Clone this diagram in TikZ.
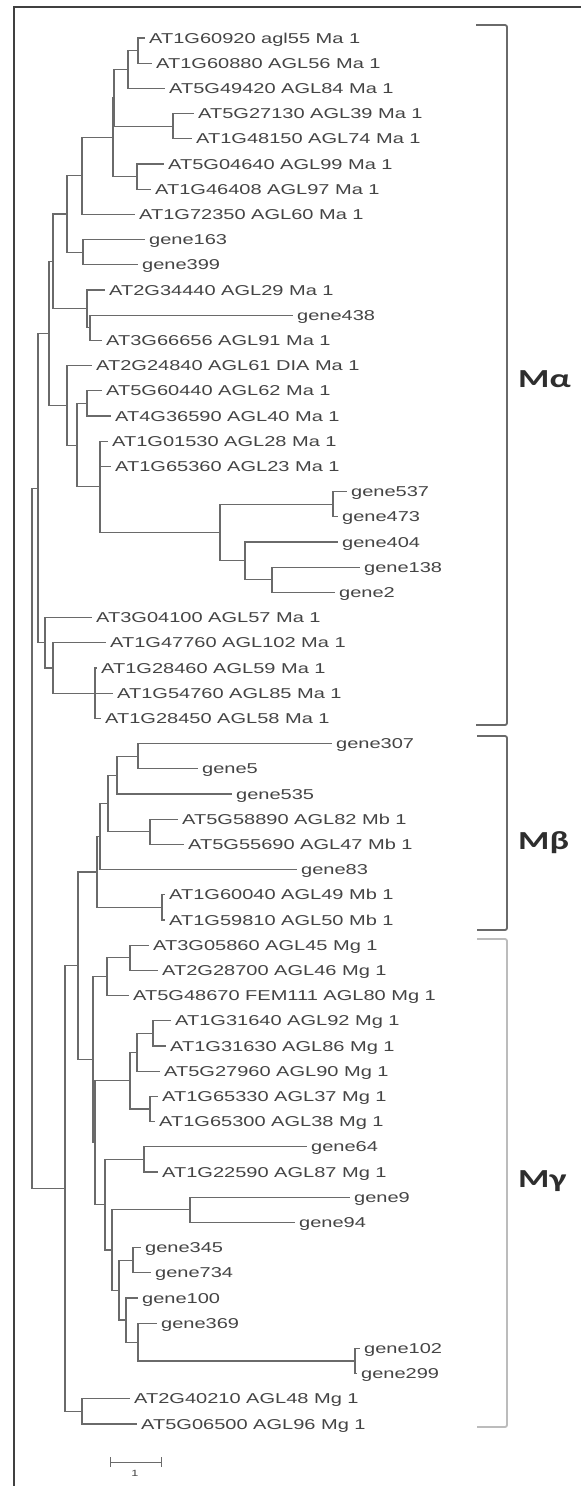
\documentclass[tikz,border=0pt]{standalone}
\usepackage{fontspec}
\newfontfamily\leaffont[FakeStretch=1.40]{Liberation Sans}
\newfontfamily\grpfont[FakeStretch=1.38]{Carlito}
\definecolor{treec}{HTML}{6A6A6A}
\definecolor{txtc}{HTML}{444444}
\definecolor{brkc}{HTML}{6A6A6A}
\definecolor{brkl}{HTML}{BCBCBC}
\definecolor{grpc}{HTML}{2E2E2E}
\definecolor{framec}{HTML}{404040}
\begin{document}
\begin{tikzpicture}[x=1pt,y=-1pt,
  br/.style={draw=treec,line width=1.15pt},
  lf/.style={anchor=west,inner xsep=4pt,inner ysep=0pt,text height=10pt,text depth=0pt,text=txtc,font=\leaffont\fontsize{14.3}{16}\selectfont},
  grp/.style={anchor=base west,inner sep=0pt,text=grpc,font=\grpfont\bfseries\fontsize{26}{28}\selectfont},
  brk/.style={line width=1.8pt,rounded corners=2pt},
  frame/.style={draw=framec,line width=1.8pt},
  scalebar/.style={draw=treec,line width=1pt}]
\useasboundingbox (0,0) rectangle (581,1486);
\fill[white] (0,0) rectangle (581,1486);
% frame
\coordinate (fBL) at (14,1486);
\coordinate (fTL) at (14,7);
\coordinate (fTR) at (581,7);
\draw[frame] (fBL) -- (fTL) -- (fTR);
% leaves
\node[lf] (L1) at (145,38) {AT1G60920 agl55 Ma 1};
\node[lf] (L2) at (152,63.2) {AT1G60880 AGL56 Ma 1};
\node[lf] (L3) at (165,88.4) {AT5G49420 AGL84 Ma 1};
\node[lf] (L4) at (194,113.6) {AT5G27130 AGL39 Ma 1};
\node[lf] (L5) at (192,138.8) {AT1G48150 AGL74 Ma 1};
\node[lf] (L6) at (164,164) {AT5G04640 AGL99 Ma 1};
\node[lf] (L7) at (151,189.2) {AT1G46408 AGL97 Ma 1};
\node[lf] (L8) at (135,214.4) {AT1G72350 AGL60 Ma 1};
\node[lf] (L9) at (145,239.6) {gene163};
\node[lf] (L10) at (138,264.8) {gene399};
\node[lf] (L11) at (105,290) {AT2G34440 AGL29 Ma 1};
\node[lf] (L12) at (293,315.2) {gene438};
\node[lf] (L13) at (102,340.4) {AT3G66656 AGL91 Ma 1};
\node[lf] (L14) at (92,365.6) {AT2G24840 AGL61 DIA Ma 1};
\node[lf] (L15) at (102,390.8) {AT5G60440 AGL62 Ma 1};
\node[lf] (L16) at (111,416) {AT4G36590 AGL40 Ma 1};
\node[lf] (L17) at (108,441.2) {AT1G01530 AGL28 Ma 1};
\node[lf] (L18) at (111,466.4) {AT1G65360 AGL23 Ma 1};
\node[lf] (L19) at (347,491.6) {gene537};
\node[lf] (L20) at (338,516.8) {gene473};
\node[lf] (L21) at (338,542) {gene404};
\node[lf] (L22) at (360,567.2) {gene138};
\node[lf] (L23) at (335,592.4) {gene2};
\node[lf] (L24) at (92,617.6) {AT3G04100 AGL57 Ma 1};
\node[lf] (L25) at (106,642.8) {AT1G47760 AGL102 Ma 1};
\node[lf] (L26) at (97,668) {AT1G28460 AGL59 Ma 1};
\node[lf] (L27) at (113,693.2) {AT1G54760 AGL85 Ma 1};
\node[lf] (L28) at (101,718.4) {AT1G28450 AGL58 Ma 1};
\node[lf] (L29) at (332,743.6) {gene307};
\node[lf] (L30) at (198,768.8) {gene5};
\node[lf] (L31) at (232,794) {gene535};
\node[lf] (L32) at (178,819.2) {AT5G58890 AGL82 Mb 1};
\node[lf] (L33) at (184,844.4) {AT5G55690 AGL47 Mb 1};
\node[lf] (L34) at (297,869.6) {gene83};
\node[lf] (L35) at (165,894.8) {AT1G60040 AGL49 Mb 1};
\node[lf] (L36) at (165,920) {AT1G59810 AGL50 Mb 1};
\node[lf] (L37) at (149,945.2) {AT3G05860 AGL45 Mg 1};
\node[lf] (L38) at (158,970.4) {AT2G28700 AGL46 Mg 1};
\node[lf] (L39) at (129,995.6) {AT5G48670 FEM111 AGL80 Mg 1};
\node[lf] (L40) at (171,1020.8) {AT1G31640 AGL92 Mg 1};
\node[lf] (L41) at (166,1046) {AT1G31630 AGL86 Mg 1};
\node[lf] (L42) at (160,1071.2) {AT5G27960 AGL90 Mg 1};
\node[lf] (L43) at (158,1096.4) {AT1G65330 AGL37 Mg 1};
\node[lf] (L44) at (155,1121.6) {AT1G65300 AGL38 Mg 1};
\node[lf] (L45) at (307,1146.8) {gene64};
\node[lf] (L46) at (158,1172) {AT1G22590 AGL87 Mg 1};
\node[lf] (L47) at (350,1197.2) {gene9};
\node[lf] (L48) at (295,1222.4) {gene94};
\node[lf] (L49) at (141,1247.6) {gene345};
\node[lf] (L50) at (151,1272.8) {gene734};
\node[lf] (L51) at (138,1298) {gene100};
\node[lf] (L52) at (157,1323.2) {gene369};
\node[lf] (L53) at (360,1348.4) {gene102};
\node[lf] (L54) at (357,1373.6) {gene299};
\node[lf] (L55) at (130,1398.8) {AT2G40210 AGL48 Mg 1};
\node[lf] (L56) at (137,1424) {AT5G06500 AGL96 Mg 1};
% internal nodes
\coordinate (n12) at (138,50.6);
\coordinate (n123) at (128,69.5);
\coordinate (n45) at (173,126.2);
\coordinate (n15) at (114,97.9);
\coordinate (n67) at (137,176.6);
\coordinate (nC) at (113,137.2);
\coordinate (nD) at (82,175.8);
\coordinate (n910) at (83,252.2);
\coordinate (nE) at (67,214);
\coordinate (n1213) at (90,327.8);
\coordinate (nG) at (87,308.9);
\coordinate (nF) at (53,261.5);
\coordinate (n1516) at (87,403.4);
\coordinate (n1920) at (333,504.2);
\coordinate (n2223) at (272,579.8);
\coordinate (nM) at (245,560.9);
\coordinate (nL) at (220,532.6);
\coordinate (nK) at (100,486.9);
\coordinate (nJ) at (77,445.2);
\coordinate (nI) at (67,405.4);
\coordinate (nH) at (49,333.5);
\coordinate (nS) at (95,693.2);
\coordinate (nR) at (53,668);
\coordinate (nQ) at (45,642.8);
\coordinate (nP) at (38,488.2);
\coordinate (n2930) at (138,756.2);
\coordinate (nY) at (117,775.1);
\coordinate (n3233) at (150,831.8);
\coordinate (nZ) at (108,803.5);
\coordinate (nAA) at (100,836.5);
\coordinate (n3536) at (162,907.4);
\coordinate (nBB) at (97,872);
\coordinate (n3738) at (130,957.8);
\coordinate (nDD) at (107,976.7);
\coordinate (n4041) at (153,1033.4);
\coordinate (nEE) at (137,1052.3);
\coordinate (n4344) at (150,1109);
\coordinate (nFF) at (130,1080.7);
\coordinate (n4546) at (144,1159.4);
\coordinate (n4748) at (190,1209.8);
\coordinate (n4950) at (133,1260.2);
\coordinate (n5354) at (355,1361);
\coordinate (nLL) at (138,1342.1);
\coordinate (nKK) at (126,1320.05);
\coordinate (nJJ) at (119,1290.1);
\coordinate (nII) at (112,1250);
\coordinate (nHH) at (105,1204.7);
\coordinate (nGG) at (95,1142.7);
\coordinate (nCC) at (93,1059.7);
\coordinate (nU) at (78,965.9);
\coordinate (n5556) at (82,1411.4);
\coordinate (nV) at (65,1188.6);
\coordinate (nRoot) at (32,838.4);
% branches
\foreach \p/\c in {n12/L1,n12/L2,n123/n12,n123/L3,n45/L4,n45/L5,n15/n123,n15/n45,
  n67/L6,n67/L7,nC/n15,nC/n67,nD/nC,nD/L8,n910/L9,n910/L10,nE/nD,nE/n910,
  n1213/L12,n1213/L13,nG/L11,nG/n1213,nF/nE,nF/nG,n1516/L15,n1516/L16,
  n1920/L19,n1920/L20,n2223/L22,n2223/L23,nM/L21,nM/n2223,nL/n1920,nL/nM,
  nK/L17,nK/L18,nK/nL,nJ/n1516,nJ/nK,nI/L14,nI/nJ,nH/nF,nH/nI,
  nS/L26,nS/L27,nS/L28,nR/L25,nR/nS,nQ/L24,nQ/nR,nP/nH,nP/nQ,
  n2930/L29,n2930/L30,nY/n2930,nY/L31,n3233/L32,n3233/L33,nZ/nY,nZ/n3233,
  nAA/nZ,nAA/L34,n3536/L35,n3536/L36,nBB/nAA,nBB/n3536,
  n3738/L37,n3738/L38,nDD/n3738,nDD/L39,n4041/L40,n4041/L41,nEE/n4041,nEE/L42,
  n4344/L43,n4344/L44,nFF/nEE,nFF/n4344,n4546/L45,n4546/L46,n4748/L47,n4748/L48,
  n4950/L49,n4950/L50,n5354/L53,n5354/L54,nLL/L52,nLL/n5354,nKK/L51,nKK/nLL,
  nJJ/n4950,nJJ/nKK,nII/n4748,nII/nJJ,nHH/n4546,nHH/nII,nGG/nFF,nGG/nHH,
  nCC/nDD,nCC/nGG,nU/nBB,nU/nCC,n5556/L55,n5556/L56,nV/nU,nV/n5556,
  nRoot/nP,nRoot/nV}
  \draw[br] (\p) |- (\c);
% brackets
\coordinate (aT1) at (476,25); \coordinate (aT2) at (507,25);
\coordinate (aB2) at (507,725); \coordinate (aB1) at (476,725);
\draw[brk,draw=brkc] (aT1) -- (aT2) -- (aB2) -- (aB1);
\coordinate (bT1) at (477,736); \coordinate (bT2) at (507,736);
\coordinate (bB2) at (507,930); \coordinate (bB1) at (477,930);
\draw[brk,draw=brkc] (bT1) -- (bT2) -- (bB2) -- (bB1);
\coordinate (cT1) at (477,939); \coordinate (cT2) at (507,939);
\coordinate (cB2) at (507,1427); \coordinate (cB1) at (477,1427);
\draw[brk,draw=brkl] (cT1) -- (cT2) -- (cB2) -- (cB1);
\node[grp] (ga) at (518,387) {Mα};
\node[grp] (gb) at (518,849) {Mβ};
\node[grp] (gc) at (518,1187) {Mγ};
% scale bar
\coordinate (s1) at (110,1462); \coordinate (s2) at (161,1462);
\coordinate (s1a) at (110,1457); \coordinate (s1b) at (110,1467);
\coordinate (s2a) at (161,1457); \coordinate (s2b) at (161,1467);
\draw[scalebar] (s1) -- (s2);
\draw[scalebar] (s1a) -- (s1b);
\draw[scalebar] (s2a) -- (s2b);
\node[inner sep=0pt,text=txtc,font=\leaffont\fontsize{9}{10}\selectfont] (sl) at (135,1473) {1};
\end{tikzpicture}
\end{document}
